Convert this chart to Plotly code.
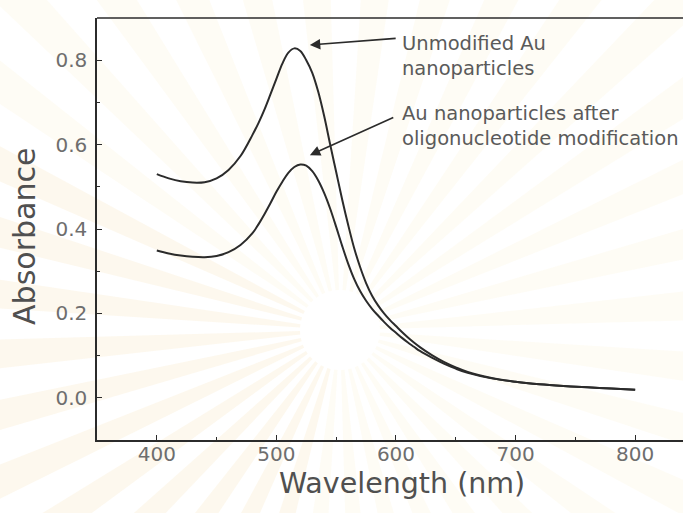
import math
import plotly.graph_objects as go

# Absorption spectra of gold nanoparticles
wl_unmod = [400, 410, 420, 430, 440, 450, 460, 470, 480, 485, 490, 495, 500, 505,
            510, 515, 520, 525, 530, 535, 540, 545, 550, 555, 560, 565, 570, 575,
            580, 585, 590, 595, 600, 605, 610, 615, 620, 630, 640, 650, 660, 680,
            700, 720, 740, 760, 780, 800]
abs_unmod = [0.530, 0.520, 0.513, 0.510, 0.511, 0.520, 0.540, 0.573, 0.623, 0.651,
             0.683, 0.719, 0.756, 0.792, 0.818, 0.828, 0.822, 0.800, 0.770, 0.725,
             0.667, 0.600, 0.535, 0.470, 0.410, 0.355, 0.310, 0.272, 0.242, 0.219,
             0.200, 0.184, 0.170, 0.156, 0.143, 0.131, 0.120, 0.101, 0.085, 0.072,
             0.061, 0.047, 0.038, 0.032, 0.028, 0.025, 0.022, 0.019]

wl_mod = [400, 410, 420, 430, 440, 450, 460, 470, 480, 485, 490, 495, 500, 505,
          510, 515, 520, 525, 530, 535, 540, 545, 550, 555, 560, 565, 570, 575,
          580, 585, 590, 595, 600, 605, 610, 615, 620, 630, 640, 650, 660, 680,
          700, 720, 740, 760, 780, 800]
abs_mod = [0.349, 0.342, 0.337, 0.334, 0.333, 0.336, 0.345, 0.362, 0.390, 0.411,
           0.435, 0.461, 0.488, 0.512, 0.533, 0.547, 0.553, 0.550, 0.537, 0.515,
           0.485, 0.448, 0.405, 0.360, 0.318, 0.282, 0.253, 0.230, 0.211, 0.195,
           0.180, 0.166, 0.154, 0.142, 0.131, 0.121, 0.111, 0.095, 0.081, 0.069,
           0.059, 0.046, 0.038, 0.032, 0.028, 0.025, 0.022, 0.019]

x_ticks = [400, 500, 600, 700, 800]
y_ticks = [0.0, 0.2, 0.4, 0.6, 0.8]
y_tick_text = ["0.0", "0.2", "0.4", "0.6", "0.8"]

FONT = "DejaVu Sans, Verdana, sans-serif"
LINE = "#2b2b2b"

W, H = 683, 513
ML, MR, MT, MB = 97, 0, 18, 73
PW, PH = W - ML - MR, H - MT - MB

fig = go.Figure()

# faint sunburst watermark in the background
def to_paper(px, py):
    return (px - ML) / PW, (H - MB - py) / PH

cx, cy = 340, 330
for k in range(36):
    deg = k * 10 + 4
    ang = math.radians(deg)
    half = math.radians(2.4)
    pts = []
    for a, r in [(ang - half, 40), (ang - half, 520), (ang + half, 520), (ang + half, 40)]:
        pts.append(to_paper(cx + r * math.cos(a), cy - r * math.sin(a)))
    path = "M " + " L ".join(f"{x:.4f},{y:.4f}" for x, y in pts) + " Z"
    lower_left = 150 < deg < 260
    fill = "rgba(243,212,150,0.16)" if lower_left else "rgba(248,232,185,0.14)"
    fig.add_shape(type="path", path=path, xref="paper", yref="paper",
                  fillcolor=fill, line=dict(width=0), layer="below")

fig.add_trace(go.Scatter(x=wl_unmod, y=abs_unmod, mode="lines", line_shape="spline",
                         line=dict(color=LINE, width=2), showlegend=False))
fig.add_trace(go.Scatter(x=wl_mod, y=abs_mod, mode="lines", line_shape="spline",
                         line=dict(color=LINE, width=2), showlegend=False))

# arrows pointing at the two peaks
fig.add_annotation(x=528, y=0.836, ax=601, ay=0.852, xref="x", yref="y",
                   axref="x", ayref="y", text="", showarrow=True,
                   arrowhead=2, arrowsize=1.3, arrowwidth=1.6, arrowcolor=LINE)
fig.add_annotation(x=528, y=0.575, ax=599, ay=0.666, xref="x", yref="y",
                   axref="x", ayref="y", text="", showarrow=True,
                   arrowhead=2, arrowsize=1.3, arrowwidth=1.6, arrowcolor=LINE)

fig.add_annotation(x=603, y=0.81, xref="x", yref="y", xanchor="left", yanchor="middle",
                   align="left", showarrow=False,
                   text="Unmodified Au<br>nanoparticles",
                   font=dict(family=FONT, size=19.5, color="#5a5a5a"))
fig.add_annotation(x=603, y=0.643, xref="x", yref="y", xanchor="left", yanchor="middle",
                   align="left", showarrow=False,
                   text="Au nanoparticles after<br>oligonucleotide modification",
                   font=dict(family=FONT, size=19.5, color="#5a5a5a"))

# axis titles
fig.add_annotation(x=0.52, y=-0.104, xref="paper", yref="paper", showarrow=False,
                   xanchor="center", yanchor="middle", text="Wavelength (nm)",
                   font=dict(family=FONT, size=28.5, color="#505050"))
fig.add_annotation(x=-0.125, y=0.483, xref="paper", yref="paper", showarrow=False,
                   xanchor="center", yanchor="middle", text="Absorbance", textangle=-90,
                   font=dict(family=FONT, size=30, color="#505050"))

# top frame line
fig.add_shape(type="line", xref="paper", yref="paper", x0=0, x1=1, y0=1, y1=1,
              line=dict(color=LINE, width=1.5))

fig.update_xaxes(range=[350, 840], tickvals=x_ticks, ticks="inside", ticklen=5,
                 tickcolor=LINE, showline=True, linecolor=LINE, linewidth=1.5,
                 showgrid=False, zeroline=False, ticklabelstandoff=-5,
                 minor=dict(ticks="inside", ticklen=3, dtick=50, tick0=350, tickcolor=LINE),
                 tickfont=dict(family=FONT, size=20, color="#6e6e6e"))
fig.update_yaxes(range=[-0.1, 0.9], tickvals=y_ticks, ticktext=y_tick_text,
                 ticks="inside", ticklen=5, tickcolor=LINE,
                 showline=True, linecolor=LINE, linewidth=1.5,
                 showgrid=False, zeroline=False, ticklabelstandoff=4,
                 minor=dict(ticks="inside", ticklen=3, dtick=0.1, tick0=-0.1, tickcolor=LINE),
                 tickfont=dict(family=FONT, size=20, color="#6e6e6e"))

fig.update_layout(width=W, height=H, margin=dict(l=ML, r=MR, t=MT, b=MB),
                  plot_bgcolor="rgba(0,0,0,0)", paper_bgcolor="white")

fig.write_html("out.html")
